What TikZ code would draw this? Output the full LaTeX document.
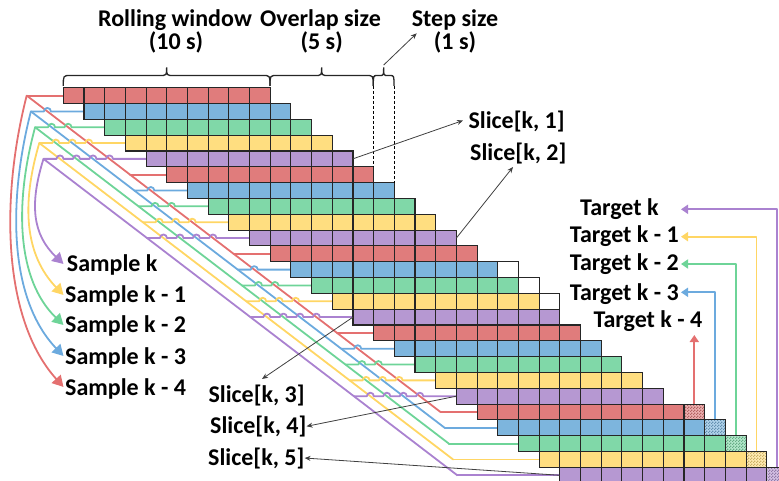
\documentclass[tikz,border=0pt]{standalone}
\usepackage{fontspec}
\setmainfont{Carlito}
\usetikzlibrary{arrows.meta,patterns}
\definecolor{cc0}{RGB}{224,124,124}
\definecolor{cc1}{RGB}{125,181,221}
\definecolor{cc2}{RGB}{128,216,168}
\definecolor{cc3}{RGB}{255,222,128}
\definecolor{cc4}{RGB}{182,152,210}
\definecolor{lc0}{RGB}{228,112,112}
\definecolor{lc1}{RGB}{108,170,222}
\definecolor{lc2}{RGB}{110,212,152}
\definecolor{lc3}{RGB}{255,214,100}
\definecolor{lc4}{RGB}{170,130,208}
\pgfdeclarepatternformonly{chk}{\pgfpointorigin}{\pgfqpoint{3pt}{3pt}}{\pgfqpoint{3pt}{3pt}}{%
  \pgfpathrectangle{\pgfpointorigin}{\pgfqpoint{1.5pt}{1.5pt}}%
  \pgfpathrectangle{\pgfqpoint{1.5pt}{1.5pt}}{\pgfqpoint{1.5pt}{1.5pt}}%
  \pgfusepath{fill}}
\newcommand\mybrace[3]{%
  \draw[bracepath] (#1,86) .. controls (#1,75.5) .. ({#1+#3},75.5) -- ({(#1+#2)/2-#3},75.5)
   .. controls ({(#1+#2)/2},75.5) .. ({(#1+#2)/2},67.5)
   .. controls ({(#1+#2)/2},75.5) .. ({(#1+#2)/2+#3},75.5) -- ({#2-#3},75.5)
   .. controls (#2,75.5) .. (#2,86);}
\begin{document}
\begin{tikzpicture}[x=1pt,y=-1pt,
  lbl/.style={font=\fontsize{24}{28}\selectfont\bfseries, inner sep=0pt, text=black},
  cellbox/.style={draw=black!85, line width=1.1pt},
  cline/.style={line width=1.8pt, line cap=round, line join=round},
  sarr/.style={draw=black!75, line width=0.8pt, -{Stealth[length=6pt,width=5pt]}},
  samparr/.style={cline, line cap=butt, -{Triangle[length=11pt,width=12pt]}},
  tarr/.style={cline, line cap=butt, -{Triangle[length=7pt,width=9pt]}},
  bracepath/.style={draw=black!85, line width=1.3pt},
  dashline/.style={draw=black, line width=0.8pt, dash pattern=on 3pt off 2pt}]
\useasboundingbox (0,0) rectangle (779,481);
\clip (0,0) rectangle (779,481);

% ---- sample bus lines (diagonals, stubs with hops) ----
\foreach \c in {0,...,4}{
  \pgfmathsetmacro\Px{26.7+4.2*\c}
  \pgfmathsetmacro\Yc{87.7+(\c+0.5)*15.82}
  \coordinate (P\c) at (\Px,\Yc);
  \draw[cline,lc\c] (P\c) -- ++(413.8,316.4);
  \foreach \k in {0,...,4}{
    \pgfmathtruncatemacro\r{5*\k+\c}
    \pgfmathsetmacro\yy{87.7+(\r+0.5)*15.82}
    \pgfmathsetmacro\xs{63.3+\r*20.69}
    \pgfmathsetmacro\xa{\Px+(\r-\c)*20.69}
    \ifnum\k<4 \ifnum\c>0
      \draw[cline,lc\c] (\xa,\yy) \foreach \d in {1,...,\c}{ -- ({\xa+16.49*\d-3.5},\yy) arc[start angle=180,end angle=360,radius=3.5] } -- (\xs,\yy);
    \else
      \draw[cline,lc\c] (\xa,\yy) -- (\xs,\yy);
    \fi\else
      \draw[cline,lc\c] (\xa,\yy) -- (\xs,\yy);
    \fi
  }
}

% ---- sample labels ----
\node[lbl,anchor=base west] (s4) at (66.7,271.7) {Sample k};
\node[lbl,anchor=base west] (s3) at (65,302.7) {Sample k - 1};
\node[lbl,anchor=base west] (s2) at (65,332.7) {Sample k - 2};
\node[lbl,anchor=base west] (s1) at (65,364.3) {Sample k - 3};
\node[lbl,anchor=base west] (s0) at (65,395) {Sample k - 4};

\foreach \c/\ax/\ay/\bx/\by/\ty in {0/0/200/3/320/387, 1/7/205/10/300/356, 2/14/205/17/280/325, 3/21/205/25/255/295, 4/29/205/33/235/264}{
  \coordinate (T\c) at (63.5,\ty);
  \draw[samparr,lc\c] (P\c) .. controls (\ax,\ay) and (\bx,\by) .. (T\c);
}

% ---- target lines ----
\foreach \c/\ty in {1/292.3,2/264,3/236.7,4/209.3}{
  \pgfmathsetmacro\xx{63.3+(30.5+\c)*20.69}
  \pgfmathsetmacro\yt{87.7+(20+\c)*15.82}
  \coordinate (G\c) at (\xx,\yt);
  \coordinate (A\c) at (681,\ty);
  \draw[tarr,lc\c] (G\c) |- (A\c);
}
\coordinate (G0) at (694.3,404.1);
\coordinate (A0) at (694.3,335);
\draw[tarr,lc0] (G0) -- (A0);

% ---- cells ----
\foreach \r in {0,...,24}{
  \pgfmathtruncatemacro\cc{mod(\r,5)}
  \pgfmathsetmacro\ya{87.7+\r*15.82}
  \foreach \j in {0,...,9}{
    \pgfmathsetmacro\xa{63.3+(\r+\j)*20.69}
    \draw[cellbox,fill=cc\cc] (\xa,\ya) rectangle ++(20.69,15.82);
  }
}
\foreach \r in {11,12,13}{
  \pgfmathsetmacro\ya{87.7+\r*15.82}
  \pgfmathsetmacro\xa{63.3+(\r+10)*20.69}
  \draw[cellbox,fill=white] (\xa,\ya) rectangle ++(20.69,15.82);
}
\foreach \r in {20,...,24}{
  \pgfmathtruncatemacro\cc{mod(\r,5)}
  \pgfmathsetmacro\ya{87.7+\r*15.82}
  \pgfmathsetmacro\xa{63.3+(\r+10)*20.69}
  \fill[cc\cc!60!white] (\xa,\ya) rectangle ++(20.69,15.82);
  \fill[pattern=chk,pattern color=cc\cc!80!black] (\xa,\ya) rectangle ++(20.69,15.82);
  \draw[cellbox] (\xa,\ya) rectangle ++(20.69,15.82);
}

% ---- target labels ----
\node[lbl,anchor=base west] (t4) at (580,216) {Target k};
\node[lbl,anchor=base east] (t3) at (679,242.7) {Target k - 1};
\node[lbl,anchor=base east] (t2) at (679,270) {Target k - 2};
\node[lbl,anchor=base east] (t1) at (679,300.7) {Target k - 3};
\node[lbl,anchor=base west] (t0) at (593.3,327.3) {Target k - 4};

% ---- braces and header ----
\mybrace{63.3}{270}{7}
\mybrace{270}{373.3}{7}
\mybrace{373.3}{394}{4}
\draw[dashline] (373.3,86) -- (373.3,166.8);
\draw[dashline] (394,86) -- (394,182.6);
\node[lbl,anchor=base] (rw) at (175,27) {Rolling window};
\node[lbl,anchor=base] (rw2) at (176,50) {(10 s)};
\node[lbl,anchor=base] (ov) at (320.5,27) {Overlap size};
\node[lbl,anchor=base] (ov2) at (321.7,50) {(5 s)};
\node[lbl,anchor=base] (st) at (455,27) {Step size};
\node[lbl,anchor=base] (st2) at (455,50) {(1 s)};
\coordinate (bt) at (383.7,65);
\coordinate (sa) at (416.7,33.3);
\draw[sarr] (bt) -- (sa);

% ---- slice labels and arrows ----
\node[lbl,anchor=base west] (k1) at (468.3,128.3) {Slice[k, 1]};
\node[lbl,anchor=base west] (k2) at (470,160.7) {Slice[k, 2]};
\node[lbl,anchor=base west] (k3) at (208.3,402.7) {Slice[k, 3]};
\node[lbl,anchor=base west] (k4) at (210,433.3) {Slice[k, 4]};
\node[lbl,anchor=base west] (k5) at (208,465) {Slice[k, 5]};
\coordinate (e1) at (353,158.8);
\coordinate (e2) at (456.4,238);
\coordinate (e3) at (353,317.1);
\coordinate (e4) at (456.4,396.2);
\coordinate (e5) at (559.9,475.3);
\draw[sarr] (e1) -- (463,120.5);
\draw[sarr] (e2) -- (513,167);
\draw[sarr] (e3) -- (262,379);
\draw[sarr] (e4) -- (k4.east);
\draw[sarr] (e5) -- (k5.east);
\end{tikzpicture}
\end{document}
